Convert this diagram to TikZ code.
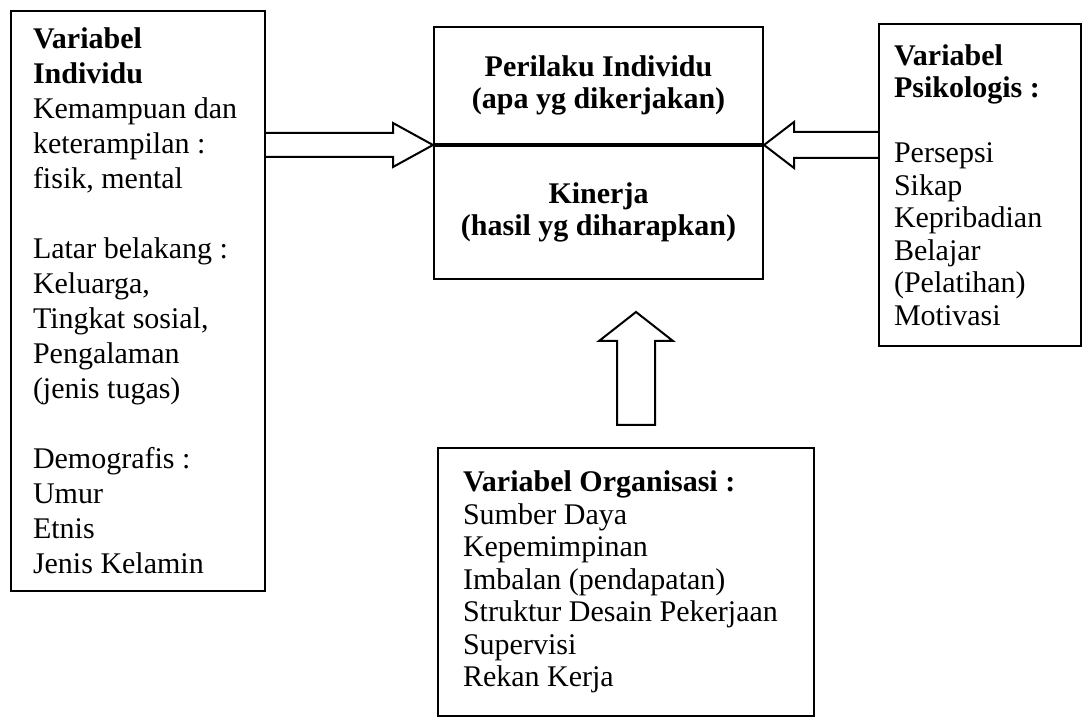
\documentclass[tikz,border=0pt]{standalone}
\usepackage{fontspec}
\setmainfont{Liberation Serif}
\usetikzlibrary{calc}
\begin{document}
\begin{tikzpicture}[
        x=0.4pt, y=-0.4pt,
        box/.style={draw, thick, rectangle, anchor=north west, align=flush left},
        midbox/.style={draw, thick, rectangle, anchor=north west, align=center,
            minimum width=131.6pt, font=\fontsize{12}{13}\selectfont\bfseries},
        fat/.style={thick, line join=miter}
    ]
        \useasboundingbox (0,0) rectangle (1084,717);

        % Individual variables
        \node[box, minimum width=101.6pt, minimum height=232pt, text width=84pt,
            inner xsep=8.8pt, font=\fontsize{12}{14}\selectfont] (indiv) at (10,10)
            {\textbf{Variabel}\\ \textbf{Individu}\\ Kemampuan dan\\ keterampilan :\\
            fisik, mental\\[14pt] Latar belakang :\\ Keluarga,\\ Tingkat sosial,\\
            Pengalaman\\ (jenis tugas)\\[14pt] Demografis :\\ Umur\\ Etnis\\ Jenis Kelamin};

        % Behaviour and performance
        \node[midbox, minimum height=46.8pt] (perilaku) at (433,26)
            {Perilaku Individu\\ (apa yg dikerjakan)};
        \node[midbox, minimum height=53.2pt] (kinerja) at (perilaku.south west)
            {Kinerja\\ (hasil yg diharapkan)};

        % Psychological variables
        \node[box, minimum width=80.8pt, minimum height=128.8pt, text width=68.8pt,
            inner xsep=6pt, font=\fontsize{12}{13}\selectfont] (psiko) at (878,23)
            {\textbf{Variabel}\\ \textbf{Psikologis :}\\[13pt] Persepsi\\ Sikap\\
            Kepribadian\\ Belajar\\ (Pelatihan)\\ Motivasi};

        % Organisational variables
        \node[box, minimum width=150.4pt, minimum height=107.2pt, text width=130.4pt,
            inner xsep=10pt, font=\fontsize{12}{13}\selectfont] (org) at (437,447)
            {\textbf{Variabel Organisasi :}\\ Sumber Daya\\ Kepemimpinan\\
            Imbalan (pendapatan)\\ Struktur Desain Pekerjaan\\ Supervisi\\ Rekan Kerja};

        % Block arrows
        \coordinate (tipL) at (perilaku.south west);
        \coordinate (tipR) at (perilaku.south east);
        \coordinate (upTip) at (636,312);
        \coordinate (upEnd) at (636,425);

        \draw[fat] ($(tipL -| indiv.east)+(0,-12)$) -- ($(tipL)+(-40,-12)$)
            -- ($(tipL)+(-40,-22)$) -- (tipL) -- ($(tipL)+(-40,22)$)
            -- ($(tipL)+(-40,12)$) -- ($(tipL -| indiv.east)+(0,12)$);
        \draw[fat] ($(tipR -| psiko.west)+(0,-13)$) -- ($(tipR)+(30,-13)$)
            -- ($(tipR)+(30,-23)$) -- (tipR) -- ($(tipR)+(30,23)$)
            -- ($(tipR)+(30,13)$) -- ($(tipR -| psiko.west)+(0,13)$);
        \draw[fat] (upTip) -- ($(upTip)+(-37,29)$) -- ($(upTip)+(-19,29)$)
            -- ($(upEnd)+(-19,0)$) -- ($(upEnd)+(19,0)$) -- ($(upTip)+(19,29)$)
            -- ($(upTip)+(37,29)$) -- cycle;
    \end{tikzpicture}
\end{document}
